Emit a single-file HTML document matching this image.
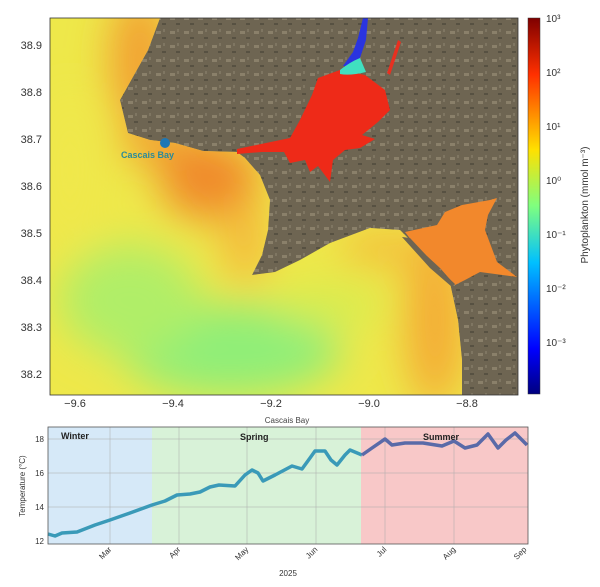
<!DOCTYPE html>
<html><head><style>
body{margin:0;background:#fff;width:600px;height:582px;overflow:hidden;font-family:"Liberation Sans",sans-serif}
</style></head><body>
<svg width="600" height="582" viewBox="0 0 600 582" font-family="Liberation Sans, sans-serif">
<defs>
<linearGradient id="cb" x1="0" y1="1" x2="0" y2="0">
<stop offset="0" stop-color="#00007f"/><stop offset="0.12" stop-color="#0000ff"/><stop offset="0.35" stop-color="#00c0ff"/><stop offset="0.5" stop-color="#7fff7f"/><stop offset="0.65" stop-color="#ffe000"/><stop offset="0.85" stop-color="#ff3000"/><stop offset="1" stop-color="#7f0000"/>
</linearGradient>
<pattern id="ld" width="14" height="14" patternUnits="userSpaceOnUse">
<rect width="14" height="14" fill="#6e6552"/><rect x="2" y="3" width="5" height="3" fill="#8a806a"/><rect x="8" y="9" width="4" height="2" fill="#575142"/><rect x="9" y="1" width="2" height="3" fill="#7f7662"/>
</pattern>
<filter id="bl" x="-20%" y="-20%" width="140%" height="140%"><feGaussianBlur stdDeviation="20"/></filter>
<clipPath id="oc"><path d="M50,18 L160,18 L148,50 L120,100 L128,133 L150,140 L175,143 L203,151 L237,152 L245,158 L260,175 L270,200 L268,230 L262,255 L252,275 L275,272 L300,260 L330,243 L370,228 L400,230 L410,240 L430,262 L450,283 L458,320 L462,360 L462,395 L50,395Z"/></clipPath>
</defs>
<rect x="50" y="18" width="468" height="377" fill="url(#ld)"/>
<g clip-path="url(#oc)">
<rect x="50" y="18" width="468" height="377" fill="#eee84a"/>
<g filter="url(#bl)">
<ellipse cx="140" cy="60" rx="30" ry="70" fill="#f2a030"/>
<ellipse cx="165" cy="145" rx="45" ry="20" fill="#f2a030"/>
<ellipse cx="210" cy="180" rx="50" ry="40" fill="#f08a2c"/>
<ellipse cx="245" cy="240" rx="22" ry="45" fill="#f4b83a"/>
<ellipse cx="230" cy="350" rx="110" ry="45" fill="#90ee78"/>
<ellipse cx="130" cy="300" rx="70" ry="55" fill="#b0ee68"/>
<ellipse cx="330" cy="305" rx="55" ry="22" fill="#d8ec50"/>
<ellipse cx="435" cy="320" rx="30" ry="90" fill="#f4ac34"/>
<ellipse cx="380" cy="248" rx="40" ry="16" fill="#f4b838"/>
<ellipse cx="70" cy="170" rx="25" ry="80" fill="#f0e84c"/>
</g>
</g>
<path d="M405,232 L437,225 L445,212 L462,205 L490,200 L497,198 L488,215 L485,230 L497,262 L517,277 L480,272 L465,280 L455,285 L440,268 L415,245Z" fill="#f2882c"/>
<path d="M402,237 L410,238 L440,270 L455,284 L452,287 L430,268Z" fill="#6e6552"/>
<path d="M237,149 L290,138 L300,120 L312,95 L318,78 L340,70 L365,75 L385,90 L390,110 L378,122 L362,135 L375,139 L360,148 L345,150 L333,160 L330,182 L318,166 L310,172 L305,160 L290,163 L284,152 L262,152 L237,154Z" fill="#ee2a18"/>
<path d="M363,18 L368,18 L366,40 L360,58 L352,66 L343,66 L353,52 L358,38Z" fill="#2a34e0"/>
<path d="M340,70 Q350,62 360,58 L366,72 Q350,76 340,74Z" fill="#40e0c0"/>
<path d="M398,40 L401,42 L390,75 L387,73Z" fill="#e83020"/>
<circle cx="165" cy="143" r="5" fill="#1f77b4"/>
<text x="121" y="158" font-size="9" font-weight="bold" fill="#2a8a9a">Cascais Bay</text>
<rect x="50" y="18" width="468" height="377" fill="none" stroke="#333" stroke-width="0.8"/>
<g font-size="11" fill="#333" text-anchor="end">
<text x="42" y="49">38.9</text><text x="42" y="96">38.8</text><text x="42" y="143">38.7</text><text x="42" y="190">38.6</text><text x="42" y="237">38.5</text><text x="42" y="284">38.4</text><text x="42" y="331">38.3</text><text x="42" y="378">38.2</text>
</g>
<g font-size="11" fill="#333" text-anchor="middle">
<text x="75" y="407">−9.6</text><text x="173" y="407">−9.4</text><text x="271" y="407">−9.2</text><text x="369" y="407">−9.0</text><text x="467" y="407">−8.8</text>
</g>
<text x="287" y="423" font-size="8" fill="#444" text-anchor="middle">Cascais Bay</text>
<rect x="528" y="18" width="12" height="376" fill="url(#cb)" stroke="#333" stroke-width="0.5"/>
<g font-size="10" fill="#333">
<text x="546" y="22">10³</text><text x="546" y="76">10²</text><text x="546" y="130">10¹</text><text x="546" y="184">10⁰</text><text x="546" y="238">10⁻¹</text><text x="546" y="292">10⁻²</text><text x="546" y="346">10⁻³</text>
</g>
<text transform="translate(588,205) rotate(-90)" font-size="10" fill="#333" text-anchor="middle">Phytoplankton (mmol m⁻³)</text>
<rect x="48" y="427" width="104" height="117" fill="#d6e9f8"/>
<rect x="152" y="427" width="209" height="117" fill="#d8f2d8"/>
<rect x="361" y="427" width="167" height="117" fill="#f8c8c8"/>
<g stroke="#aaa" stroke-width="0.5">
<line x1="110" y1="427" x2="110" y2="544"/><line x1="179" y1="427" x2="179" y2="544"/><line x1="247" y1="427" x2="247" y2="544"/><line x1="316" y1="427" x2="316" y2="544"/><line x1="385" y1="427" x2="385" y2="544"/><line x1="454" y1="427" x2="454" y2="544"/>
<line x1="48" y1="439" x2="528" y2="439"/><line x1="48" y1="473" x2="528" y2="473"/><line x1="48" y1="507" x2="528" y2="507"/>
</g>
<polyline fill="none" stroke="#3a9ab8" stroke-width="3.5" stroke-linejoin="round" points="48,534 55,536 62,533 77,532 95,525 110,520 130,513 152,505 165,501 177,495 190,494 200,492 210,487 219,485 235,486 245,475 252,470 258,473 263,481 275,475 292,466 302,469 310,458 315,451 325,451 331,460 337,465 345,455 350,450 362,455"/>
<polyline fill="none" stroke="#5a6aa8" stroke-width="3.5" stroke-linejoin="round" points="362,455 372,448 385,439 392,445 405,443 423,443 442,446 454,441 465,448 477,445 488,434 498,448 506,440 515,433 527,445"/>
<rect x="48" y="427" width="480" height="117" fill="none" stroke="#555" stroke-width="0.8"/>
<g font-size="9" font-weight="bold" fill="#222"><text x="61" y="439">Winter</text><text x="240" y="440">Spring</text><text x="423" y="440">Summer</text></g>
<g font-size="8" fill="#333" text-anchor="end"><text x="44" y="442">18</text><text x="44" y="476">16</text><text x="44" y="510">14</text><text x="44" y="544">12</text></g>
<text transform="translate(25,486) rotate(-90)" font-size="8" fill="#333" text-anchor="middle">Temperature (°C)</text>
<g font-size="8" fill="#333" text-anchor="end">
<text transform="translate(112,550) rotate(-45)">Mar</text><text transform="translate(181,550) rotate(-45)">Apr</text><text transform="translate(249,550) rotate(-45)">May</text><text transform="translate(318,550) rotate(-45)">Jun</text><text transform="translate(387,550) rotate(-45)">Jul</text><text transform="translate(456,550) rotate(-45)">Aug</text><text transform="translate(527,550) rotate(-45)">Sep</text>
</g>
<text x="288" y="576" font-size="8" fill="#333" text-anchor="middle">2025</text>
</svg>
</body></html>
